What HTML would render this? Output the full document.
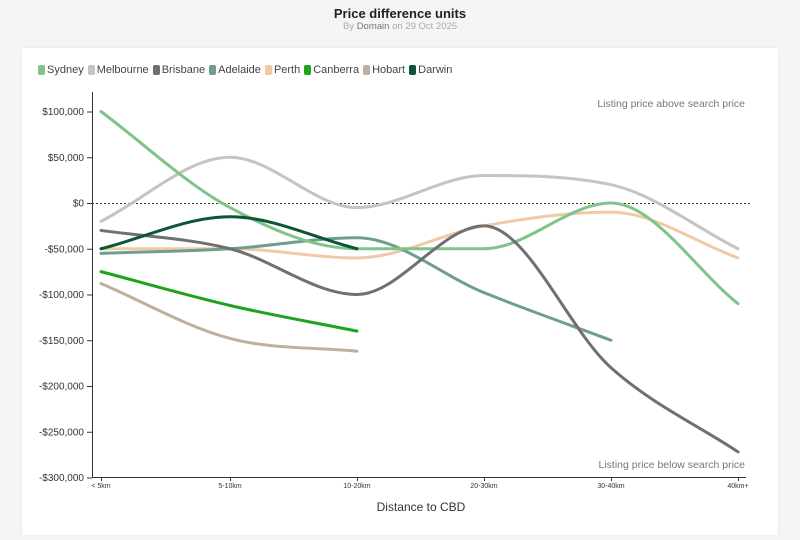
<!DOCTYPE html>
<html><head><meta charset="utf-8"><style>
body{margin:0;width:800px;height:540px;background:#f5f5f5;font-family:"Liberation Sans",sans-serif;overflow:hidden;position:relative}
.t{position:absolute;left:0;width:800px;text-align:center}
.card{position:absolute;left:22px;top:48px;width:756px;height:487px;background:#fff;box-shadow:0 0 3px rgba(0,0,0,.08)}
.leg{position:absolute;left:38px;top:64px;font-size:11px;color:#444;display:flex;gap:4px}
.leg span{display:flex;align-items:center}
.leg i{display:inline-block;width:7px;height:10px;border-radius:2px;margin-right:2px}
</style></head><body>
<div class="t" style="top:6px;font-weight:bold;font-size:13px;color:#222">Price difference units</div>
<div class="t" style="top:21px;font-size:9.5px;color:#aaa">By <span style="color:#777">Domain</span> on 29 Oct 2025</div>
<div class="card"></div>
<div class="leg">
<span><i style="background:#7fc48a"></i>Sydney</span>
<span><i style="background:#c4c4c4"></i>Melbourne</span>
<span><i style="background:#707070"></i>Brisbane</span>
<span><i style="background:#6f9e8a"></i>Adelaide</span>
<span><i style="background:#f2c9a6"></i>Perth</span>
<span><i style="background:#1fa31f"></i>Canberra</span>
<span><i style="background:#bdb09c"></i>Hobart</span>
<span><i style="background:#0e5535"></i>Darwin</span>
</div>
<svg id="s" width="800" height="540" style="position:absolute;left:0;top:0" font-family="Liberation Sans, sans-serif">
<line x1="92.5" y1="92" x2="92.5" y2="477" stroke="#333"/>
<line x1="92" y1="477.5" x2="746" y2="477.5" stroke="#333"/>
<line x1="92" y1="203.5" x2="750" y2="203.5" stroke="#333" stroke-dasharray="2,2"/>
<g font-size="10" fill="#333" text-anchor="end" id="yt"></g>
<g font-size="7" fill="#333" text-anchor="middle" id="xt"></g>
<text x="745" y="107" font-size="10.5" fill="#777" text-anchor="end">Listing price above search price</text>
<text x="745" y="468" font-size="10.5" fill="#777" text-anchor="end">Listing price below search price</text>
<text x="421" y="511" font-size="12" fill="#333" text-anchor="middle">Distance to CBD</text>
<g id="lines" fill="none" stroke-width="3" stroke-linecap="round"></g>
</svg>
<script>
var NS="http://www.w3.org/2000/svg";
function y(v){return 203-v*0.915;}
var X=[101,230,357,484,611,738];
var yt=document.getElementById('yt');
for(var v=100;v>=-300;v-=50){
 var t=document.createElementNS(NS,'text');t.setAttribute('x',84);t.setAttribute('y',y(v)+3.5);
 t.textContent=(v<0?'-':'')+'$'+(v==0?'0':Math.abs(v)+',000');yt.appendChild(t);
 var l=document.createElementNS(NS,'line');l.setAttribute('x1',87);l.setAttribute('x2',92);l.setAttribute('y1',y(v)+.5);l.setAttribute('y2',y(v)+.5);l.setAttribute('stroke','#333');yt.appendChild(l);
}
var labs=['< 5km','5-10km','10-20km','20-30km','30-40km','40km+'];
var xt=document.getElementById('xt');
labs.forEach(function(s,i){var t=document.createElementNS(NS,'text');t.setAttribute('x',X[i]);t.setAttribute('y',488);t.textContent=s;xt.appendChild(t);
var l=document.createElementNS(NS,'line');l.setAttribute('x1',X[i]+.5);l.setAttribute('x2',X[i]+.5);l.setAttribute('y1',477);l.setAttribute('y2',481);l.setAttribute('stroke','#333');xt.appendChild(l);});
function mono(p){var n=p.length,d=[],m=[];for(var i=0;i<n-1;i++)d.push((p[i+1][1]-p[i][1])/(p[i+1][0]-p[i][0]));
m[0]=d[0];m[n-1]=d[n-2];for(i=1;i<n-1;i++){m[i]=(d[i-1]*d[i]<=0)?0:(d[i-1]+d[i])/2;}
for(i=0;i<n-1;i++){if(d[i]==0){m[i]=0;m[i+1]=0;continue;}var a=m[i]/d[i],b=m[i+1]/d[i],s=a*a+b*b;if(s>9){var t=3/Math.sqrt(s);m[i]=t*a*d[i];m[i+1]=t*b*d[i];}}
var s='M'+p[0][0]+','+p[0][1];for(i=0;i<n-1;i++){var h=(p[i+1][0]-p[i][0])/3;s+='C'+(p[i][0]+h)+','+(p[i][1]+m[i]*h)+' '+(p[i+1][0]-h)+','+(p[i+1][1]-m[i+1]*h)+' '+p[i+1][0]+','+p[i+1][1];}return s;}
var D=[
['#c4c4c4',[-20,50,-5,30,20,-50]],
['#f2c9a6',[-50,-50,-60,-25,-10,-60]],
['#6f9e8a',[-55,-50,-38,-98,-150]],
['#7fc48a',[100,-5,-50,-50,0,-110]],
['#707070',[-30,-50,-100,-25,-180,-272]],
['#bdb09c',[-88,-148,-162]],
['#1fa31f',[-75,-112,-140]],
['#0e5535',[-50,-15,-50]]];
var g=document.getElementById('lines');
D.forEach(function(s){var p=s[1].map(function(v,i){return [X[i],y(v)];});var e=document.createElementNS(NS,'path');e.setAttribute('d',mono(p));e.setAttribute('stroke',s[0]);g.appendChild(e);});
</script>
</body></html>
